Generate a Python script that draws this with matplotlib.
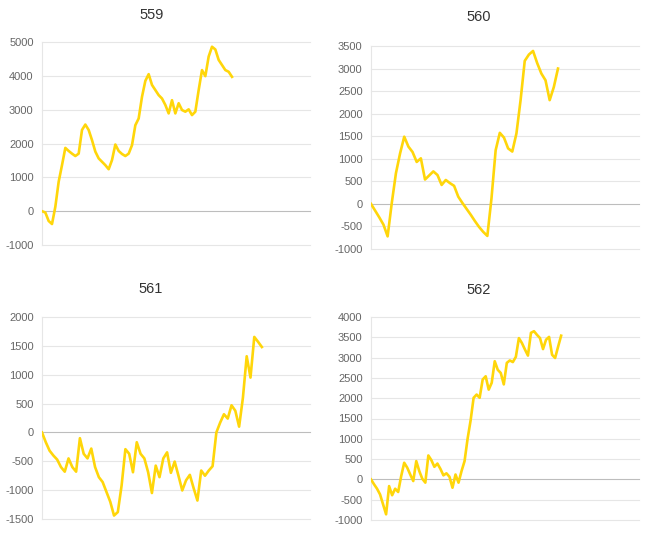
import numpy as np
import matplotlib
matplotlib.use("Agg")
import matplotlib.pyplot as plt

plt.rcParams["font.family"] = ["Liberation Sans", "DejaVu Sans"]

# Cumulative P&L per strategy.
IDS = ["559", "560", "561", "562"]

PNL_559 = [0, -40, -290, -380, 130, 870, 1360, 1870, 1780, 1700,
           1630, 1700, 2400, 2560, 2400, 2100, 1760, 1560, 1460, 1360,
           1240, 1510, 1970, 1780, 1690, 1630, 1700, 1950, 2540, 2740,
           3380, 3850, 4050, 3730, 3580, 3430, 3330, 3140, 2890, 3280,
           2890, 3190, 2990, 2940, 3010, 2840, 2940, 3580, 4170, 3990,
           4570, 4860, 4780, 4470, 4320, 4170, 4120, 3970]

PNL_560 = [0, -150, -300, -460, -720, 20, 680, 1120, 1490, 1270,
           1150, 930, 1010, 540, 630, 720, 640, 420, 530, 460,
           400, 160, 20, -110, -240, -380, -510, -620, -710, 125,
           1190, 1575, 1470, 1230, 1160, 1560, 2300, 3170, 3310, 3390,
           3120, 2890, 2740, 2300, 2590, 3000]

PNL_561 = [0, -170, -316, -400, -470, -600, -680, -450, -600, -680,
           -100, -370, -450, -280, -600, -775, -860, -1030, -1200, -1440,
           -1380, -920, -290, -370, -690, -170, -370, -450, -690, -1050,
           -575, -775, -450, -345, -700, -505, -750, -1005, -830, -735,
           -965, -1180, -660, -750, -660, -585, 0, 170, 315, 240,
           470, 375, 100, 600, 1320, 950, 1655, 1570, 1480]

PNL_562 = [0, -120, -230, -370, -615, -860, -165, -390, -230, -310,
           80, 410, 290, 120, -40, 450, 205, 15, -80, 590,
           475, 310, 390, 260, 100, 150, 65, -205, 120, -80,
           205, 450, 1000, 1450, 2010, 2090, 2010, 2460, 2540, 2210,
           2380, 2910, 2700, 2620, 2340, 2870, 2930, 2890, 3020, 3480,
           3360, 3200, 3050, 3610, 3650, 3560, 3480, 3210, 3440, 3510,
           3070, 2990, 3270, 3540]

SERIES = [PNL_559, PNL_560, PNL_561, PNL_562]

# x-axis extent (in samples) and y ticks of each panel
X_MAX = [80.4, 64.5, 70.7, 88.8]
Y_TICKS = [
  np.arange(-1000, 5001, 1000),
  np.arange(-1000, 3501, 500),
  np.arange(-1500, 2001, 500),
  np.arange(-1000, 4001, 500),
]

W, H = 649, 537
# panel boxes in pixels: left, top, right, bottom
BOXES = [
  (42, 42, 310, 245),
  (371, 46, 639, 249),
  (42, 317, 310, 519),
  (371, 317, 639, 520),
]
TITLE_POS = [(152, 15), (479, 17), (151, 289), (479, 290)]

LINE_COLOR = "#ffd60a"
GRID_COLOR = "#e6e6e6"
ZERO_COLOR = "#bdbdbd"
TEXT_COLOR = "#666666"


def draw_panel(fig, box, values, xmax, yticks):
  l, t, r, b = box
  ax = fig.add_axes([l / W, 1 - b / H, (r - l) / W, (b - t) / H])
  x = np.arange(len(values))
  ax.plot(x, values, color=LINE_COLOR, linewidth=1.9, solid_joinstyle="round", zorder=3)
  ax.set_xlim(0, xmax)
  ax.set_ylim(yticks[0], yticks[-1])
  ax.set_yticks(yticks)
  ax.set_yticklabels([str(v) for v in yticks])
  ax.set_xticks([])
  for v in yticks:
    c = ZERO_COLOR if v == 0 else GRID_COLOR
    ax.axhline(v, color=c, linewidth=0.8, zorder=1, clip_on=False)
  for side in ["top", "right", "bottom"]:
    ax.spines[side].set_visible(False)
  ax.spines["left"].set_color(GRID_COLOR)
  ax.spines["left"].set_linewidth(0.8)
  ax.tick_params(axis="y", length=0, pad=6, labelsize=8, labelcolor=TEXT_COLOR)
  return ax


def main():
  fig = plt.figure(figsize=(W / 100, H / 100), dpi=100)
  for i in range(4):
    draw_panel(fig, BOXES[i], SERIES[i], X_MAX[i], Y_TICKS[i])
    tx, ty = TITLE_POS[i]
    fig.text(tx / W, 1 - ty / H, IDS[i], ha="center", va="center",
             fontsize=10.5, color="#333333")
  fig.savefig("out.png", dpi=100)
  plt.close(fig)


if __name__ == "__main__":
  main()
